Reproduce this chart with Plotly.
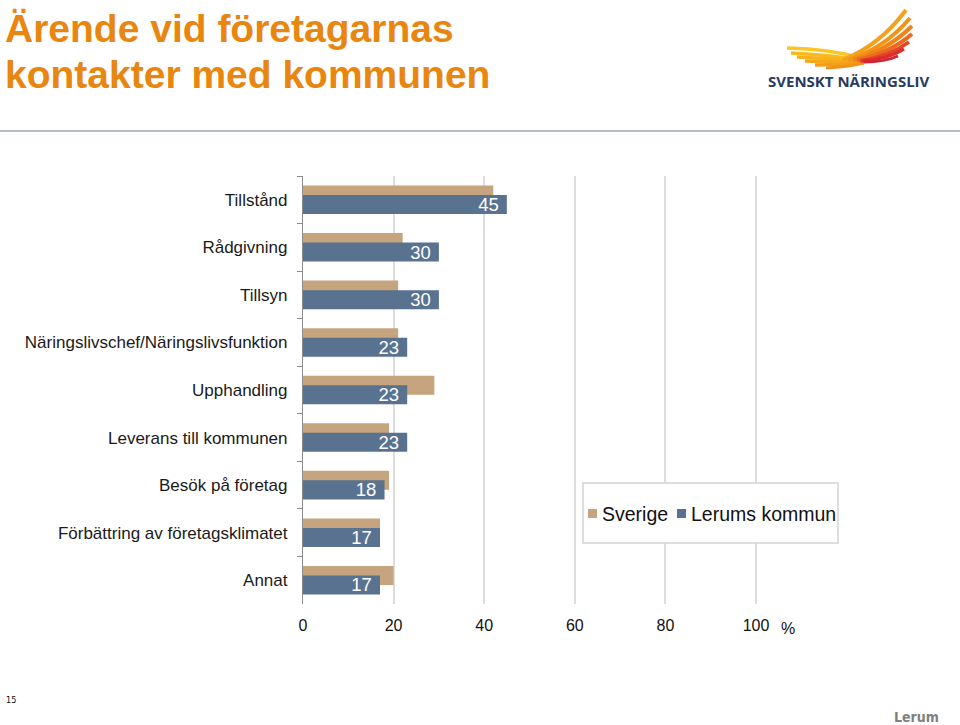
import plotly.graph_objects as go

categories = [
    "Tillstånd",
    "Rådgivning",
    "Tillsyn",
    "Näringslivschef/Näringslivsfunktion",
    "Upphandling",
    "Leverans till kommunen",
    "Besök på företag",
    "Förbättring av företagsklimatet",
    "Annat",
]
sverige = [42, 22, 21, 21, 29, 19, 19, 17, 20]
lerum = [45, 30, 30, 23, 23, 23, 18, 17, 17]
x_ticks = [0, 20, 40, 60, 80, 100]

TAN = "#C6A47E"
BLUE = "#587290"
ORANGE = "#E8860F"
SANS = "Liberation Sans, Arial, sans-serif"
NARROW = "Liberation Sans Narrow, Arial Narrow, DejaVu Sans Condensed, Liberation Sans, sans-serif"

W, H = 960, 725
L, R, T, B = 303, 759, 176, 604
X_MAX = 100 * (R - L) / 453.0


def px(x):
    return (x - L) / (R - L)


def py(y):
    return (B - y) / (B - T)


fig = go.Figure()
fig.add_trace(go.Bar(
    y=categories, x=sverige, orientation="h", name="Sverige",
    marker=dict(color=TAN, line=dict(width=0)),
    offset=-0.3, width=0.4, showlegend=False, hoverinfo="x+name",
))
fig.add_trace(go.Bar(
    y=categories, x=lerum, orientation="h", name="Lerums kommun",
    marker=dict(color=BLUE, line=dict(width=0)),
    offset=-0.1, width=0.4, showlegend=False,
    text=[str(v) + "\u00a0" for v in lerum], textposition="inside", insidetextanchor="end",
    textfont=dict(family=SANS, size=18.5, color="white"),
    constraintext="none", textangle=0, hoverinfo="x+name",
))

shapes = []
annotations = []

# horizontal rule under header
shapes.append(dict(type="line", xref="paper", yref="paper",
                   x0=px(0), x1=px(W), y0=py(131), y1=py(131),
                   line=dict(color="#B9BDC9", width=2)))

# legend box
shapes.append(dict(type="rect", xref="paper", yref="paper",
                   x0=px(583), x1=px(838), y0=py(483), y1=py(543),
                   line=dict(color="#D3D3D3", width=1.5), fillcolor="white", layer="above"))
shapes.append(dict(type="rect", xref="paper", yref="paper",
                   x0=px(588), x1=px(597), y0=py(509), y1=py(518),
                   line=dict(width=0), fillcolor=TAN, layer="above"))
shapes.append(dict(type="rect", xref="paper", yref="paper",
                   x0=px(677), x1=px(686), y0=py(509), y1=py(518),
                   line=dict(width=0), fillcolor=BLUE, layer="above"))
annotations.append(dict(text="Sverige", xref="paper", yref="paper", x=px(600), y=py(513.5),
                        xanchor="left", yanchor="middle", showarrow=False,
                        font=dict(family=SANS, size=19.5, color="#111111")))
annotations.append(dict(text="Lerums kommun", xref="paper", yref="paper", x=px(689), y=py(513.5),
                        xanchor="left", yanchor="middle", showarrow=False,
                        font=dict(family=SANS, size=19.5, color="#111111")))

# title (two lines)
annotations.append(dict(text="Ärende vid företagarnas",
                        xref="paper", yref="paper", x=px(3), y=py(28),
                        xanchor="left", yanchor="middle", showarrow=False,
                        font=dict(family=SANS, size=39, color=ORANGE, weight="bold")))
annotations.append(dict(text="kontakter med kommunen",
                        xref="paper", yref="paper", x=px(3), y=py(74),
                        xanchor="left", yanchor="middle", showarrow=False,
                        font=dict(family=SANS, size=39, color=ORANGE, weight="bold")))

# percent sign
annotations.append(dict(text="%", xref="paper", yref="paper", x=px(788), y=py(628),
                        xanchor="center", yanchor="middle", showarrow=False,
                        font=dict(family=SANS, size=16, color="#111111")))

# footer
annotations.append(dict(text="15", xref="paper", yref="paper", x=px(4), y=py(700),
                        xanchor="left", yanchor="middle", showarrow=False,
                        font=dict(family=NARROW, size=9, color="#111111")))
annotations.append(dict(text="<b>Lerum</b>", xref="paper", yref="paper", x=px(941), y=py(717),
                        xanchor="right", yanchor="middle", showarrow=False,
                        font=dict(family=NARROW, size=14, color="#7F7F7F")))

# logo text
annotations.append(dict(text="<b>SVENSKT NÄRINGSLIV</b>", xref="paper", yref="paper",
                        x=px(766), y=py(81), xanchor="left", yanchor="middle", showarrow=False,
                        font=dict(family="Open Sans, Noto Sans, sans-serif", size=15, color="#2A3B60")))

# logo wings (decorative strokes)
def stroke(p0, c, p1, color, width):
    d = "M {:.5f},{:.5f} Q {:.5f},{:.5f} {:.5f},{:.5f}".format(
        px(p0[0]), py(p0[1]), px(c[0]), py(c[1]), px(p1[0]), py(p1[1]))
    shapes.append(dict(type="path", xref="paper", yref="paper", path=d,
                       line=dict(color=color, width=width)))

# left (yellow) feathers
stroke((787, 48), (830, 49), (862, 58), "#F9C623", 3.5)
stroke((791, 53), (830, 55), (862, 60), "#F8BB1E", 3.5)
stroke((797, 57), (835, 59), (863, 61), "#F7B21C", 3.5)
stroke((805, 61), (840, 62), (864, 62), "#F5A81A", 3.5)
stroke((815, 65), (845, 65), (864, 62), "#F29E18", 3.5)
stroke((826, 68), (848, 67), (864, 63), "#F0931A", 3)
# right (orange -> red) feathers
stroke((843, 60), (880, 45), (906, 10), "#F4A21C", 4)
stroke((848, 60), (885, 48), (910, 18), "#F39418", 4)
stroke((853, 60), (888, 50), (912, 26), "#F08516", 4)
stroke((857, 60), (890, 53), (912, 34), "#EC6A1E", 4)
stroke((860, 61), (890, 56), (909, 42), "#E44427", 3.5)
stroke((862, 61), (888, 59), (904, 49), "#DD2C2E", 3.5)
stroke((864, 62), (885, 62), (898, 56), "#D6232F", 3)

fig.update_layout(
    width=W, height=H,
    margin=dict(l=L, r=W - R, t=T, b=H - B, pad=0),
    paper_bgcolor="white", plot_bgcolor="white",
    barmode="overlay",
    showlegend=False,
    shapes=shapes,
    annotations=annotations,
    xaxis=dict(
        range=[0, X_MAX], tickvals=x_ticks, ticktext=[str(v) for v in x_ticks],
        showgrid=True, gridcolor="#DDDDDD", gridwidth=2,
        zeroline=False, showline=False, ticks="",
        tickfont=dict(family=SANS, size=16, color="#111111"),
        ticklabelstandoff=10, fixedrange=True,
    ),
    yaxis=dict(
        type="category", range=[8.5, -0.5],
        showline=True, linecolor="#8C8C8C", linewidth=1.2,
        ticks="outside", ticklen=5, tickcolor="#8C8C8C", tickwidth=1.2,
        tickson="boundaries", showgrid=False,
        tickfont=dict(family=SANS, size=17, color="#1A1A1A"),
        ticklabelstandoff=11, fixedrange=True,
    ),
    font=dict(family=SANS),
)

fig.write_html("out.html", config={"displayModeBar": False},
               post_script="document.body.style.margin='0';")
